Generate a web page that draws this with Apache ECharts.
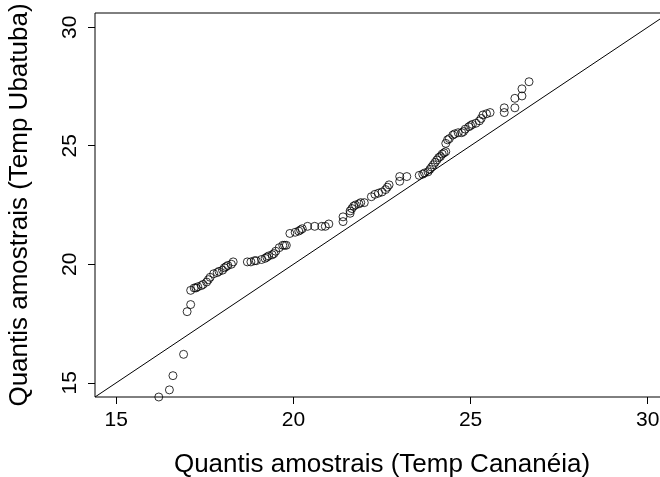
<!DOCTYPE html>
<html>
<head>
<meta charset="utf-8">
<script src="https://cdn.jsdelivr.net/npm/echarts@6/dist/echarts.min.js"></script>
<style>html,body{margin:0;padding:0;background:#fff}#c{width:660px;height:477px}</style>
</head>
<body>
<div id="c"></div>
<script>
// Sample quantiles (sorted)
var cananeia = [16.2,16.5,16.6,16.9,17.0,17.1,17.1,17.2,17.25,17.3,17.4,17.45,17.55,17.6,17.65,17.75,17.85,17.9,18.0,18.05,18.1,18.15,18.25,18.3,
  18.7,18.8,18.9,18.95,19.1,19.2,19.25,19.3,19.4,19.45,19.5,19.6,19.7,19.75,19.8,19.9,20.05,20.15,20.2,20.25,20.4,20.6,20.8,20.9,21.0,
  21.4,21.4,21.6,21.6,21.65,21.7,21.75,21.85,21.9,22.0,22.2,22.3,22.4,22.5,22.6,22.65,22.7,23.0,23.0,23.2,
  23.55,23.65,23.7,23.8,23.85,23.9,23.95,24.0,24.05,24.1,24.15,24.2,24.25,24.3,
  24.3,24.35,24.4,24.5,24.55,24.65,24.75,24.8,24.85,24.95,25.0,25.05,25.15,25.25,25.3,25.35,25.45,25.55,25.95,25.95,26.25,26.25,26.45,26.45,26.65];
var ubatuba = [14.4,14.7,15.3,16.2,18.0,18.3,18.9,19.0,19.0,19.05,19.1,19.15,19.25,19.35,19.45,19.6,19.65,19.7,19.75,19.85,19.9,19.95,20.0,20.1,
  20.1,20.1,20.15,20.15,20.2,20.25,20.3,20.35,20.4,20.45,20.55,20.7,20.8,20.8,20.8,21.3,21.35,21.4,21.45,21.5,21.6,21.6,21.6,21.6,21.7,
  21.8,22.0,22.15,22.25,22.35,22.45,22.5,22.55,22.6,22.6,22.85,22.95,23.0,23.05,23.15,23.25,23.35,23.5,23.7,23.7,
  23.75,23.8,23.85,23.9,24.0,24.1,24.2,24.3,24.4,24.5,24.55,24.65,24.7,24.75,
  25.1,25.25,25.3,25.45,25.5,25.55,25.55,25.6,25.7,25.8,25.85,25.9,25.95,26.05,26.15,26.3,26.35,26.4,26.4,26.6,26.6,27.0,27.1,27.4,27.7];
var xTicks = [15, 20, 25, 30];
var yTicks = [15, 20, 25, 30];
var axisRange = [14.4, 30.6];
var identityLine = [14.4, 30.6];
var xTitle = 'Quantis amostrais (Temp Cananéia)';
var yTitle = 'Quantis amostrais (Temp Ubatuba)';

var pts = cananeia.map(function (v, i) { return [v, ubatuba[i]]; });
var linePts = identityLine.map(function (v) { return [v, v]; });

var FONT = 'Liberation Sans, Arial, Helvetica, sans-serif';
var chart = echarts.init(document.getElementById('c'), null, {renderer: 'canvas'});
chart.setOption({
  animation: false,
  backgroundColor: '#fff',
  grid: {left: 95, top: 13, width: 574, height: 384, show: true, borderColor: '#000', borderWidth: 1,
         backgroundColor: 'transparent', containLabel: false, outerBoundsMode: 'none'},
  xAxis: {
    type: 'value', min: axisRange[0], max: axisRange[1],
    splitLine: {show: false},
    axisLine: {show: false},
    axisTick: {show: true, inside: false, length: 7, lineStyle: {color: '#000', width: 1}, customValues: xTicks},
    axisLabel: {color: '#000', fontSize: 21, fontFamily: FONT, margin: 13, customValues: xTicks},
    name: xTitle, nameLocation: 'middle', nameGap: 55,
    nameTextStyle: {color: '#000', fontSize: 26, fontFamily: FONT}
  },
  yAxis: {
    type: 'value', min: axisRange[0], max: axisRange[1],
    splitLine: {show: false},
    axisLine: {show: false},
    axisTick: {show: true, inside: false, length: 7, lineStyle: {color: '#000', width: 1}, customValues: yTicks},
    axisLabel: {color: '#000', fontSize: 21, fontFamily: FONT, margin: 14, rotate: 90, customValues: yTicks},
    name: yTitle, nameLocation: 'middle', nameGap: 62, nameRotate: 90,
    nameTextStyle: {color: '#000', fontSize: 26, fontFamily: FONT}
  },
  series: [
    {
      type: 'line', data: linePts, showSymbol: false, symbol: 'none',
      lineStyle: {color: '#000', width: 1}, clip: true, silent: true
    },
    {
      type: 'scatter', data: pts, symbol: 'circle', symbolSize: 8,
      itemStyle: {color: 'rgba(0,0,0,0)', borderColor: '#000', borderWidth: 1},
      clip: true
    }
  ]
});
</script>
</body>
</html>
